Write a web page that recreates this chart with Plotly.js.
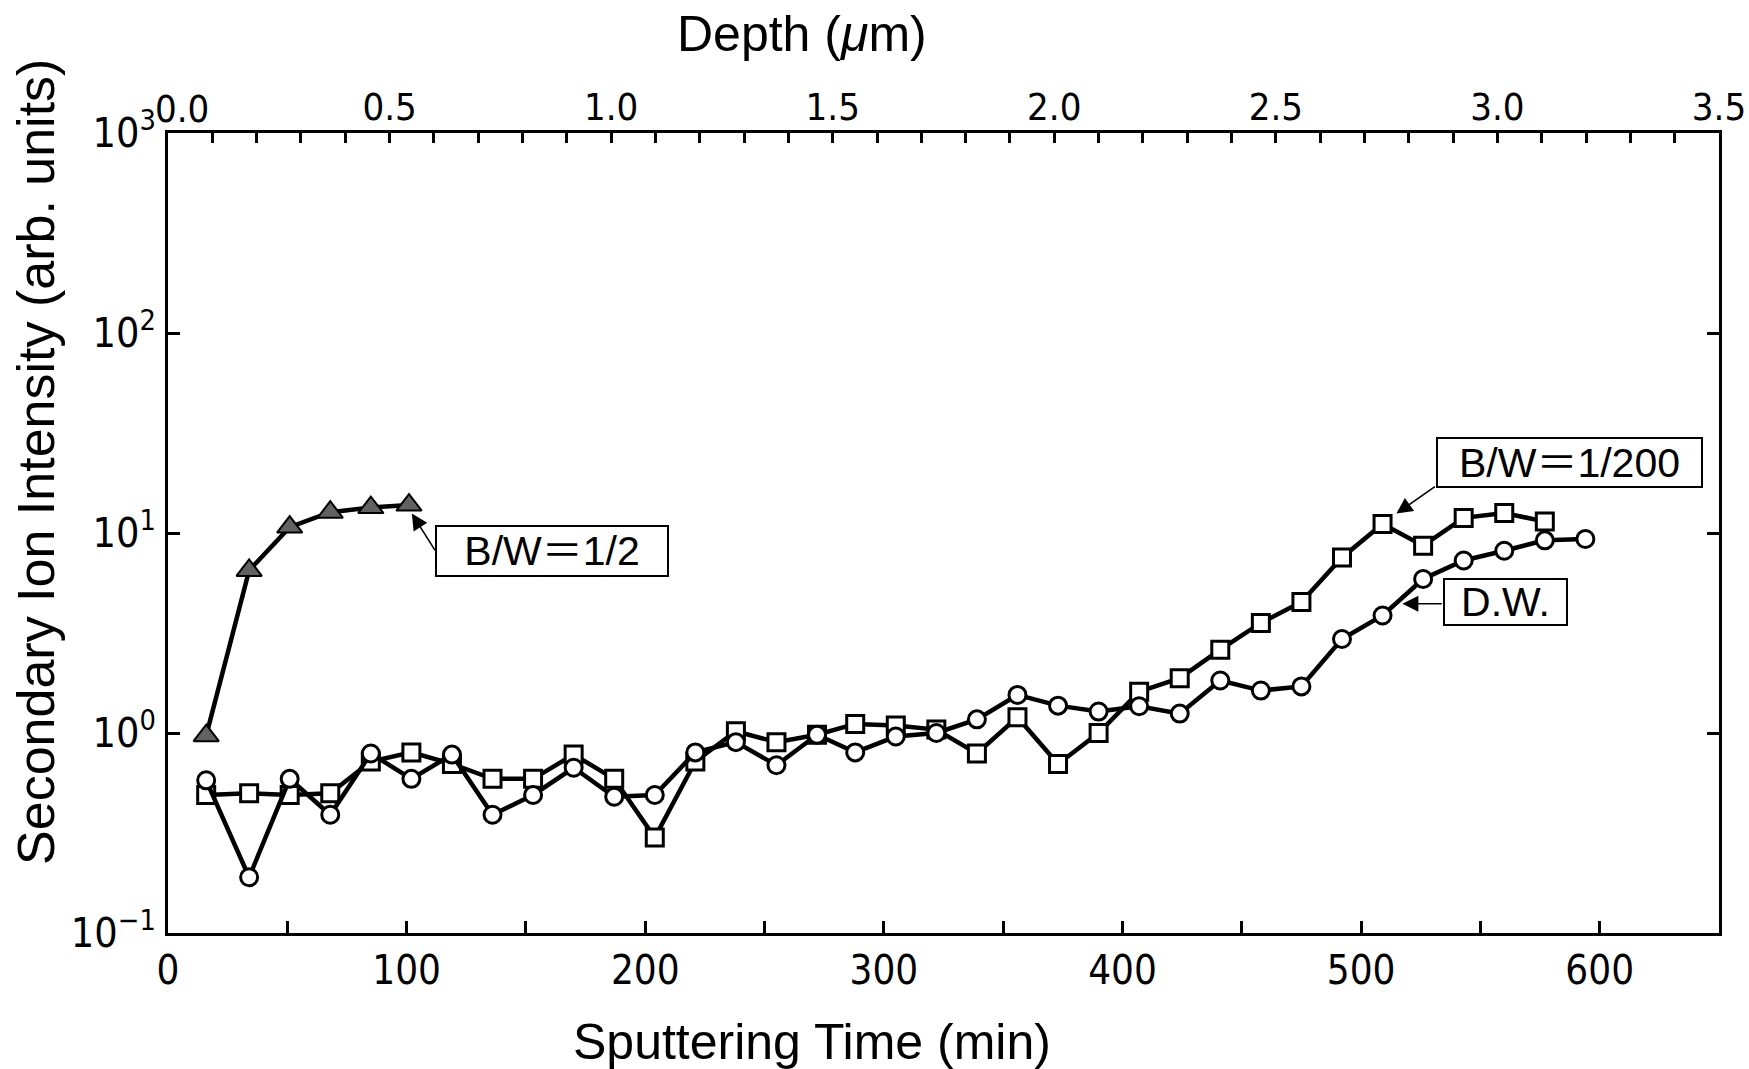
<!DOCTYPE html>
<html><head><meta charset="utf-8">
<script src="https://cdn.plot.ly/plotly-3.0.1.min.js"></script>
<style>html,body{margin:0;padding:0;background:#fff}</style>
</head><body><div id="chart" style="width:1749px;height:1069px"></div>
<script>
// ---- data ----
const timeMin = [16, 34, 51, 68, 85, 102, 119, 136, 153, 170, 187, 204, 221, 238, 255, 272, 288, 305, 322, 339, 356, 373, 390, 407, 424, 441, 458, 475, 492, 509, 526, 543, 560, 577, 594];
const dwIntensity = [0.58, 0.19, 0.59, 0.39, 0.79, 0.59, 0.78, 0.39, 0.49, 0.67, 0.48, 0.49, 0.80, 0.90, 0.69, 0.98, 0.80, 0.96, 1.00, 1.17, 1.55, 1.37, 1.28, 1.36, 1.25, 1.83, 1.63, 1.71, 2.95, 3.87, 5.89, 7.29, 8.15, 9.19, 9.33];
const bw200Time = [16, 34, 51, 68, 85, 102, 119, 136, 153, 170, 187, 204, 221, 238, 255, 272, 288, 305, 322, 339, 356, 373, 390, 407, 424, 441, 458, 475, 492, 509, 526, 543, 560, 577];
const bw200Intensity = [0.49, 0.50, 0.49, 0.50, 0.72, 0.80, 0.70, 0.59, 0.59, 0.78, 0.59, 0.30, 0.72, 1.02, 0.90, 0.98, 1.11, 1.09, 1.04, 0.79, 1.20, 0.70, 1.00, 1.61, 1.88, 2.61, 3.55, 4.52, 7.55, 11.1, 8.64, 11.9, 12.6, 11.4];
const bw2Time = [16, 34, 51, 68, 85, 101];
const bw2Intensity = [0.97, 6.5, 10.7, 12.7, 13.4, 13.8];

// depth axis (top) spans the same width as 0–650 min
const depthRange = [0, 3.5];
const timeRange = [0, 650];
const depthTickVals = [0.5, 1.0, 1.5, 2.0, 2.5, 3.0, 3.5];
const depthTickText = ['0.5', '1.0', '1.5', '2.0', '2.5', '3.0', '3.5'];
const depthZeroLabel = '0.0';   // drawn nudged right of the corner, as in the original

const seriesLabels = ['D.W.', 'B/W＝1/200', 'B/W＝1/2'];
const yTickVals = [0.1, 1, 10, 100, 1000];
const yTickText = ['10<sup>−1</sup>', '10<sup>0</sup>', '10<sup>1</sup>', '10<sup>2</sup>', '10<sup>3</sup>'];
const xTitle = 'Sputtering Time (min)';
const x2Title = 'Depth (<i>μ</i>m)';
const yTitle = 'Secondary Ion Intensity (arb. units)';

// ---- styling ----
const NARROW = 'Liberation Sans Narrow, DejaVu Sans Condensed, Arial Narrow, sans-serif';
const SANS = 'Liberation Sans, Arial, Noto Sans CJK JP, sans-serif';

const traces = [
  {x: bw2Time, y: bw2Intensity, name: seriesLabels[2], type: 'scatter', mode: 'lines+markers',
   line: {color: '#000', width: 4.5},
   marker: {symbol: 'triangle-up', size: 22, color: '#626262', line: {color: '#000', width: 2}}},
  {x: bw200Time, y: bw200Intensity, name: seriesLabels[1], type: 'scatter', mode: 'lines+markers',
   line: {color: '#000', width: 4.5},
   marker: {symbol: 'square', size: 17, color: '#fff', line: {color: '#000', width: 3}}},
  {x: timeMin, y: dwIntensity, name: seriesLabels[0], type: 'scatter', mode: 'lines+markers',
   line: {color: '#000', width: 4.5},
   marker: {symbol: 'circle', size: 17, color: '#fff', line: {color: '#000', width: 3}}},
  // carrier for the top depth axis (draws nothing)
  {x: depthRange, y: [1, 1], xaxis: 'x2', yaxis: 'y', type: 'scatter', mode: 'none',
   hoverinfo: 'skip', showlegend: false}
];

const boxFont = {family: SANS, size: 41, color: '#000'};
const tickNarrow = (s) => ({family: NARROW, size: s, color: '#000'});
const axisCommon = {showgrid: false, zeroline: false, showline: true, linewidth: 3, linecolor: '#000',
  ticks: 'inside', tickwidth: 3, tickcolor: '#000'};

const layout = {
  width: 1749, height: 1069,
  margin: {l: 168, r: 30, t: 133, b: 136, pad: 0},
  paper_bgcolor: '#fff', plot_bgcolor: '#fff',
  showlegend: false,
  font: {family: SANS, color: '#000'},
  xaxis: Object.assign({}, axisCommon, {
    range: timeRange, tick0: 0, dtick: 100, ticklen: 12,
    minor: {dtick: 50, ticks: 'inside', ticklen: 12, tickwidth: 3, tickcolor: '#000', showgrid: false},
    tickfont: tickNarrow(40), ticklabelstandoff: 0
  }),
  xaxis2: Object.assign({}, axisCommon, {
    overlaying: 'x', side: 'top', anchor: 'y',
    range: depthRange, tickmode: 'array', tickvals: depthTickVals, ticktext: depthTickText, ticklen: 10,
    minor: {tick0: 0, dtick: 0.1, ticks: 'inside', ticklen: 10, tickwidth: 3, tickcolor: '#000', showgrid: false},
    tickfont: tickNarrow(38), ticklabelstandoff: -5
  }),
  yaxis: Object.assign({}, axisCommon, {
    type: 'log', range: [-1, 3], tickvals: yTickVals, ticktext: yTickText,
    ticklen: 12, mirror: 'ticks',
    tickfont: tickNarrow(41), ticklabelstandoff: 1
  }),
  annotations: [
    {xref: 'x2', yref: 'paper', x: 0, y: 1, xshift: 14, yshift: 0, text: depthZeroLabel, showarrow: false,
     xanchor: 'center', yanchor: 'bottom', font: tickNarrow(38)},
    {xref: 'paper', yref: 'paper', x: 0.409, y: 1.124, text: x2Title, showarrow: false,
     xanchor: 'center', yanchor: 'middle', font: {family: SANS, size: 50, color: '#000'}},
    {xref: 'paper', yref: 'paper', x: 0.415, y: -0.136, text: xTitle, showarrow: false,
     xanchor: 'center', yanchor: 'middle', font: {family: SANS, size: 50, color: '#000'}},
    {xref: 'paper', yref: 'paper', x: -0.085, y: 0.589, text: yTitle, showarrow: false, textangle: -90,
     xanchor: 'center', yanchor: 'middle', font: {family: SANS, size: 52, color: '#000'}},
    // label boxes
    {x: 161, y: Math.log10(8.15), text: seriesLabels[2], showarrow: false, font: boxFont,
     bordercolor: '#000', borderwidth: 2, borderpad: 2, bgcolor: '#fff', width: 226, height: 44},
    {x: 587.3, y: Math.log10(22.6), text: seriesLabels[1], showarrow: false, font: boxFont,
     bordercolor: '#000', borderwidth: 2, borderpad: 2, bgcolor: '#fff', width: 259, height: 43},
    {x: 560.5, y: Math.log10(4.53), text: seriesLabels[0], showarrow: false, font: boxFont,
     bordercolor: '#000', borderwidth: 2, borderpad: 2, bgcolor: '#fff', width: 117, height: 40},
    // arrows
    {x: 102.2, y: Math.log10(12.5), text: '', showarrow: true, ax: 24, ay: 38,
     arrowhead: 2, arrowsize: 2, arrowwidth: 1.6, arrowcolor: '#000', standoff: 0},
    {x: 514.8, y: Math.log10(12.5), text: '', showarrow: true, ax: 40, ay: -28,
     arrowhead: 2, arrowsize: 2, arrowwidth: 1.6, arrowcolor: '#000', standoff: 0},
    {x: 517.3, y: Math.log10(4.43), text: '', showarrow: true, ax: 41, ay: 0,
     arrowhead: 2, arrowsize: 2, arrowwidth: 1.6, arrowcolor: '#000', standoff: 0}
  ]
};

Plotly.newPlot('chart', traces, layout, {displayModeBar: false, staticPlot: true});
</script>
</body></html>
